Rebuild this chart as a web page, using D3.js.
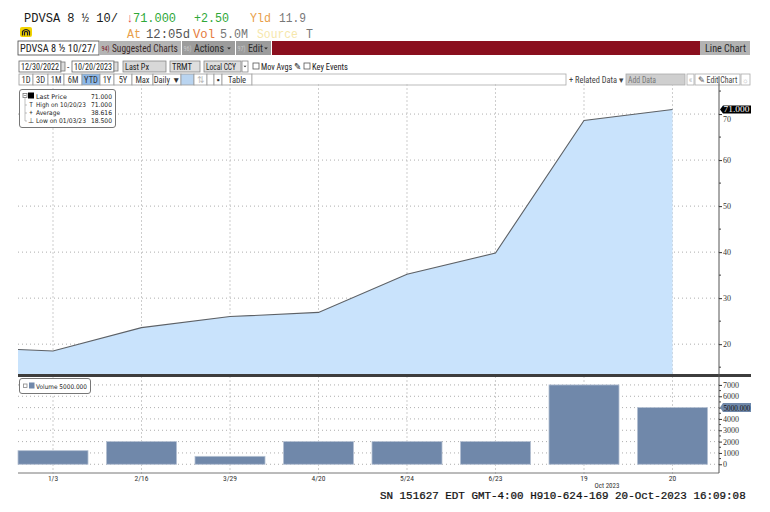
<!DOCTYPE html>
<html><head><meta charset="utf-8">
<script src="https://cdn.jsdelivr.net/npm/d3@7"></script>
<style>body{margin:0;background:#fff;} svg{display:block;}</style>
</head><body>
<svg id="c" width="770" height="512"></svg>
<script>
// ---- data ----
const categories = ["1/3","2/16","3/29","4/20","5/24","6/23","19","20"];
const startPrice = 18.85; // 12/30/2022 value at left edge
const prices = [18.5, 23.6, 26.0, 26.9, 35.2, 39.8, 68.6, 71.0];
const volumes = [1200, 2000, 700, 2000, 2000, 2000, 7000, 5000];
const priceTicks = [20, 30, 40, 50, 60, 70];
const priceMinorTicks = [15, 25, 35, 45, 55, 65, 75];
const volumeTicks = [0, 1000, 2000, 3000, 4000, 5000, 6000, 7000];
const volumeMinorTicks = [500, 1500, 2500, 3500, 4500, 5500, 6500];
const legendLabels = ["Last Price", "High on 10/20/23", "Average", "Low on 01/03/23"];
const legendValues = ["71.000", "71.000", "38.616", "18.500"];
const lastPrice = 71.0;
const lastVolume = 5000;

const svg = d3.select("#c");
const UI = "'Liberation Sans Narrow','Roboto Condensed','Liberation Sans',sans-serif";
const MONO = "'Liberation Mono','DejaVu Sans Mono',monospace";
const SERIF = "'Liberation Serif','DejaVu Serif',serif";
const SANS = "'DejaVu Sans',sans-serif";

// text helper: o.len squeezes the text horizontally to a given width via a transform
function t(x, y, s, o = {}) {
  const e = svg.append("text").text(s)
    .attr("font-family", o.ff || UI).attr("font-size", o.fs || 10)
    .attr("fill", o.fill || "#222");
  if (o.anchor) e.attr("text-anchor", o.anchor);
  if (o.fw) e.attr("font-weight", o.fw);
  if (o.len) {
    const nat = e.node().getComputedTextLength() || o.len;
    e.attr("x", 0).attr("y", 0).attr("transform", `translate(${x},${y}) scale(${o.len / nat},1)`);
  } else {
    e.attr("x", x).attr("y", y);
  }
  return e;
}
function r(x, y, w, h, fill, stroke) {
  return svg.append("rect").attr("x", x).attr("y", y).attr("width", w).attr("height", h)
    .attr("fill", fill || "none").attr("stroke", stroke || "none").attr("stroke-width", stroke ? 0.8 : 0);
}
function tri(cx, cy, s, fill) {
  svg.append("path").attr("d", `M${cx - s},${cy - s / 2} L${cx + s},${cy - s / 2} L${cx},${cy + s / 2} Z`).attr("fill", fill || "#333");
}

// ---- header ----
const hf = { ff: MONO, fs: 13 };
t(24, 22, "PDVSA 8 ½ 10/", { ...hf, fill: "#1a1a1a", len: 94 });
t(127, 22, "↓", { ...hf, fill: "#e23b3b", len: 6 });
t(133, 22, "71.000", { ...hf, fill: "#2fa838", len: 43 });
t(194, 22, "+2.50", { ...hf, fill: "#2fa838", len: 35 });
t(250, 22, "Yld", { ...hf, fill: "#e9a04a", len: 21 });
t(279, 22, "11.9", { ...hf, fill: "#777", len: 27 });
svg.append("rect").attr("x", 20).attr("y", 27).attr("width", 12).attr("height", 10).attr("rx", 2).attr("fill", "#f2d400");
svg.append("path").attr("d", "M22.5,35.5 V31.5 Q26,27.5 29.5,31.5 V35.5 M24.5,35.5 V32.2 Q26,30.5 27.5,32.2 V35.5")
  .attr("fill", "none").attr("stroke", "#222").attr("stroke-width", 1.2);
t(127, 38, "At", { ...hf, fill: "#e9a04a", len: 14 });
t(146, 38, "12:05d", { ...hf, fill: "#555", len: 44 });
t(193, 38, "Vol", { ...hf, fill: "#e57a3c", len: 22 });
t(220, 38, "5.0M", { ...hf, fill: "#777", len: 28 });
t(257, 38, "Source", { ...hf, fill: "#f6e7ab", len: 41 });
t(306, 38, "T", { ...hf, fill: "#777", len: 7 });

// ---- toolbar row A ----
r(18, 41, 81, 14, "#fff", "#444");
t(20, 52, "PDVSA 8 ½ 10/27/", { fs: 11, fill: "#222", len: 76 });
r(100, 41, 81, 14, "#b4b4b4");
t(101.5, 51, "94)", { fs: 7, fill: "#7a1424", len: 8 });
t(112, 52, "Suggested Charts", { fs: 11, fill: "#3c2a2a", len: 66 });
r(182, 41, 53, 14, "#9c9c9c");
t(183.5, 51, "96)", { fs: 7, fill: "#c8c8c8", len: 8 });
t(194, 52, "Actions", { fs: 11, fill: "#2a2a2a", len: 30 });
tri(229, 48.5, 1.8, "#2a2a2a");
r(236, 41, 35, 14, "#9c9c9c");
t(237.5, 51, "97)", { fs: 7, fill: "#c8c8c8", len: 8 });
t(248, 52, "Edit", { fs: 11, fill: "#2a2a2a", len: 15 });
tri(266, 48.5, 1.8, "#2a2a2a");
r(272, 41, 428, 14, "#8a0f1e");
r(700, 41, 50, 14, "#b3b3b3");
t(705, 52, "Line Chart", { fs: 11, fill: "#2a2a2a", len: 41 });

// ---- toolbar row B ----
r(19, 61, 42, 11, "#fff", "#666"); t(21, 70, "12/30/2022", { fs: 9.5, len: 38 });
r(61, 62, 4, 9, "#ddd", "#777");
t(67, 70, "-", { fs: 9.5 });
r(72, 61, 42, 11, "#fff", "#666"); t(74, 70, "10/20/2023", { fs: 9.5, len: 38 });
r(114, 62, 4, 9, "#ddd", "#777");
r(123, 61, 43, 11, "#d8d8d8", "#888"); t(125, 70, "Last Px", { fs: 9.5, len: 24 });
r(170, 61, 30, 11, "#dedede", "#888"); t(172, 70, "TRMT", { fs: 9.5, len: 20 });
r(204, 61, 37, 11, "#dedede", "#888"); t(206, 70, "Local CCY", { fs: 9.5, len: 30 });
r(242, 61, 6, 11, "#fff", "#888"); tri(245, 66.5, 1.5, "#333");
r(253, 63, 6, 6, "#fff", "#555"); t(261, 70, "Mov Avgs ✎", { fs: 9.5, len: 40 });
r(304, 63, 6, 6, "#fff", "#555"); t(312, 70, "Key Events", { fs: 9.5, len: 36 });

// ---- toolbar row C ----
const btns = [["1D", 19, 33], ["3D", 33, 48], ["1M", 48, 64], ["6M", 64, 82], ["YTD", 82, 100], ["1Y", 100, 114], ["5Y", 114, 132], ["Max", 132, 153], ["Daily ▼", 153, 181], ["", 181, 194], ["⇅", 194, 207], ["", 207, 214], ["▪", 214, 222], ["Table", 222, 252]];
btns.forEach(([s, a, b]) => {
  const fill = s === "YTD" ? "#8db9ea" : (a === 181 ? "#b9d4f0" : "#fff");
  r(a, 74, b - a, 11, fill, "#999");
  if (s) t((a + b) / 2, 83, s, { fs: 8.5, anchor: "middle", fill: s === "⇅" ? "#bbb" : "#333" });
});
r(252, 74, 314, 11, "#fff", "#aaa");
t(569, 83, "+ Related Data ▾", { fs: 8.5, fill: "#444", len: 55 });
r(626, 74, 59, 11, "#cfcfcf", "#aaa"); t(628, 83, "Add Data", { fs: 9, fill: "#777", len: 28 });
r(687, 74, 7, 11, "#fff", "#aaa"); t(690.5, 83, "«", { fs: 8.5, fill: "#bbb", anchor: "middle" });
r(695, 74, 45, 11, "#fff", "#aaa"); t(698, 83, "✎ Edit Chart", { fs: 8.5, fill: "#444", len: 40 });
r(741, 74, 9, 11, "#fff", "#aaa"); t(745.5, 83, "☼", { fs: 7.5, fill: "#bbb", anchor: "middle" });

// ---- chart geometry ----
const L = 18, R = 719, pTop = 86, pBot = 375, vTop = 377, vBot = 473;
const x = d3.scaleBand().domain(categories).range([18, 707.5]).paddingInner(0.209).paddingOuter(0);
const cx = c => x(c) + x.bandwidth() / 2;
const yP = d3.scaleLinear().domain([13.3, 76.1]).range([pBot, pTop]);
const yV = d3.scaleLinear().domain([-770, 7700]).range([vBot, vTop]);

// gridlines
const g = svg.append("g");
g.selectAll(".hp").data(priceTicks).join("line")
  .attr("x1", L).attr("x2", R).attr("y1", d => yP(d)).attr("y2", d => yP(d))
  .attr("stroke", "#999").attr("stroke-width", 0.8).attr("stroke-dasharray", "1,3");
g.selectAll(".hv").data(volumeTicks).join("line")
  .attr("x1", L).attr("x2", R).attr("y1", d => yV(d)).attr("y2", d => yV(d))
  .attr("stroke", "#999").attr("stroke-width", 0.8).attr("stroke-dasharray", "1,3");
g.selectAll(".vg").data(categories).join("line")
  .attr("x1", d => cx(d)).attr("x2", d => cx(d)).attr("y1", pTop - 2).attr("y2", vBot + 4)
  .attr("stroke", "#c0c0c0").attr("stroke-width", 0.8).attr("stroke-dasharray", "2,2");

// price area + line
const pts = [{ px: x.range()[0], v: startPrice }].concat(categories.map((c, i) => ({ px: cx(c), v: prices[i] })));
svg.append("path").datum(pts)
  .attr("d", d3.area().x(d => d.px).y0(pBot).y1(d => yP(d.v)))
  .attr("fill", "#c9e3fc");
svg.append("path").datum(pts)
  .attr("d", d3.line().x(d => d.px).y(d => yP(d.v)))
  .attr("fill", "none").attr("stroke", "#5d6166").attr("stroke-width", 1.1);

// volume bars
svg.selectAll(".bar").data(categories).join("rect")
  .attr("x", d => x(d)).attr("width", x.bandwidth())
  .attr("y", (d, i) => yV(volumes[i])).attr("height", (d, i) => yV(0) - yV(volumes[i]))
  .attr("fill", "#7088aa").attr("stroke", "#b4c0d2").attr("stroke-width", 0.8);

// separator and frame
svg.append("rect").attr("x", L).attr("y", pBot - 1).attr("width", 751 - L).attr("height", 3).attr("fill", "#3d3d3d");
svg.append("line").attr("x1", L).attr("x2", R).attr("y1", vBot).attr("y2", vBot).attr("stroke", "#777").attr("stroke-width", 1);
svg.append("line").attr("x1", R).attr("x2", R).attr("y1", 76).attr("y2", vBot).attr("stroke", "#555").attr("stroke-width", 1);

// right axes
const axP = svg.append("g").attr("transform", `translate(${R},0)`)
  .call(d3.axisRight(yP).tickValues(priceTicks).tickSize(3).tickPadding(1).tickFormat(d3.format("d")));
const axV = svg.append("g").attr("transform", `translate(${R},0)`)
  .call(d3.axisRight(yV).tickValues(volumeTicks).tickSize(3).tickPadding(1)
    .tickFormat(d => d === lastVolume ? "" : d3.format("d")(d)));
[axP, axV].forEach(a => {
  a.select(".domain").remove();
  a.selectAll("line").attr("stroke", "#333");
  a.selectAll("text").attr("font-family", SERIF).attr("font-size", 8).attr("fill", "#333");
});
// the 70 label peeks out just under the last-price tag, as in the original
axP.selectAll(".tick text").attr("dy", d => d === 70 ? "0.95em" : "0.32em");
svg.append("g").selectAll("line").data(priceMinorTicks.filter(v => yP(v) > pTop && yP(v) < pBot)).join("line")
  .attr("x1", R).attr("x2", R + 2).attr("y1", d => yP(d)).attr("y2", d => yP(d)).attr("stroke", "#444");
svg.append("g").selectAll("line").data(volumeMinorTicks).join("line")
  .attr("x1", R).attr("x2", R + 2).attr("y1", d => yV(d)).attr("y2", d => yV(d)).attr("stroke", "#444");

// last price label
const lp = yP(lastPrice);
svg.append("path").attr("d", `M${R + 1},${lp} L${R + 4},${lp - 4} L${R + 32},${lp - 4} L${R + 32},${lp + 4} L${R + 4},${lp + 4} Z`).attr("fill", "#000");
t(R + 4.5, lp + 3, d3.format(".3f")(lastPrice), { ff: SERIF, fs: 8.5, fill: "#fff", len: 26 });
// last volume label
const lv = yV(lastVolume);
svg.append("path").attr("d", `M${R + 1},${lv} L${R + 4},${lv - 4.5} L${R + 32},${lv - 4.5} L${R + 32},${lv + 4.5} L${R + 4},${lv + 4.5} Z`).attr("fill", "#7088aa");
t(R + 4.5, lv + 3, d3.format(".3f")(lastVolume), { ff: SERIF, fs: 8.5, fill: "#111", len: 27 });

// x-axis labels
svg.append("g").selectAll("text").data(categories).join("text")
  .attr("x", d => cx(d)).attr("y", 481).attr("text-anchor", "middle")
  .attr("font-family", UI).attr("font-size", 7.5).attr("fill", "#333").text(d => d);
t(607, 487.5, "Oct 2023", { fs: 7, fill: "#333", anchor: "middle" });

// footer
t(380, 498.5, "SN 151627 EDT  GMT-4:00 H910-624-169 20-Oct-2023 16:09:08", { ff: MONO, fs: 10.5, fill: "#111", len: 366 })
  .attr("stroke", "#111").attr("stroke-width", 0.25);

// price legend
svg.append("rect").attr("x", 19.5).attr("y", 89.5).attr("width", 96).attr("height", 38).attr("rx", 2.5)
  .attr("fill", "#fff").attr("stroke", "#777").attr("stroke-width", 1);
r(23, 93.5, 4, 4, "#fff", "#777");
svg.append("line").attr("x1", 23.8).attr("x2", 26.2).attr("y1", 95.5).attr("y2", 95.5).attr("stroke", "#555").attr("stroke-width", 0.6);
r(28, 92.5, 6, 6, "#000");
svg.append("path").attr("d", "M25,98 V121 M25,105 H27 M25,113 H27 M25,121 H27").attr("stroke", "#999").attr("fill", "none").attr("stroke-width", 0.6);
const syms = ["", "T", "+", "⊥"];
const labLens = [31, 50, 24, 50];
legendLabels.forEach((s, i) => {
  const yy = 98.5 + i * 8;
  if (syms[i]) t(31, yy, syms[i], { fs: 7, fill: "#333", anchor: "middle" });
  t(36, yy, s, { ff: SANS, fs: 6.4, fill: "#222", len: labLens[i] });
  t(91, yy, legendValues[i], { ff: SANS, fs: 6.4, fill: "#222", len: 21 });
});

// volume legend
svg.append("rect").attr("x", 19.5).attr("y", 378.5).attr("width", 71).attr("height", 15).attr("rx", 2.5)
  .attr("fill", "#fff").attr("stroke", "#777").attr("stroke-width", 1);
r(23.5, 384, 3.5, 3.5, "#fff", "#888");
r(29, 382.5, 5.5, 6, "#7088aa");
t(36, 388.8, "Volume " + d3.format(".3f")(lastVolume), { ff: SANS, fs: 6.4, fill: "#222", len: 51 });
</script>
</body></html>
